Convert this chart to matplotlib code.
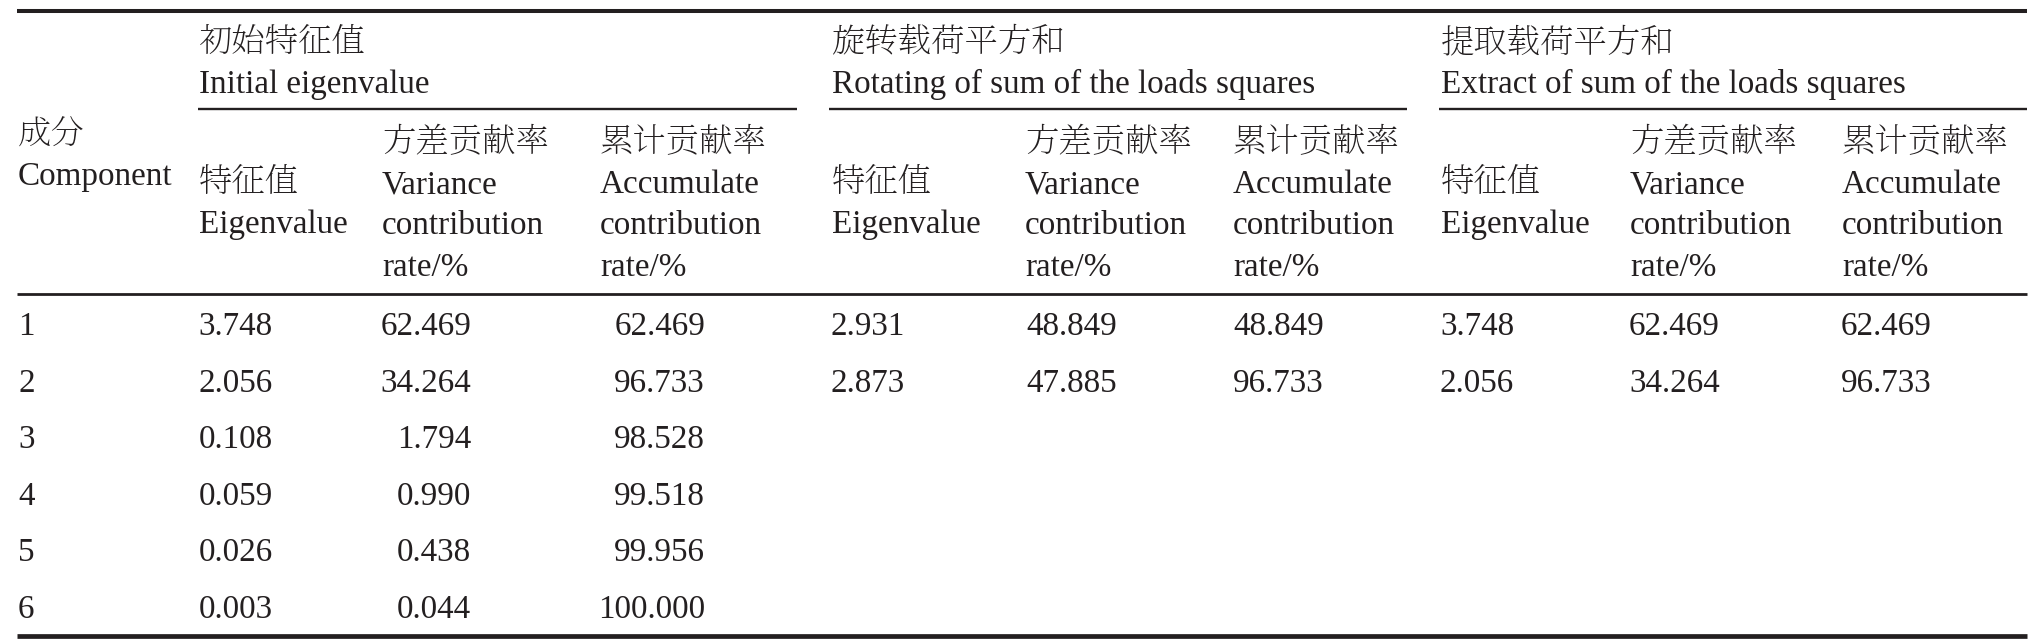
import matplotlib
matplotlib.use("Agg")
import matplotlib.pyplot as plt

# ---------------- data ----------------
components = [1, 2, 3, 4, 5, 6]
init_eig = [3.748, 2.056, 0.108, 0.059, 0.026, 0.003]
init_var = [62.469, 34.264, 1.794, 0.990, 0.438, 0.044]
init_acc = [62.469, 96.733, 98.528, 99.518, 99.956, 100.000]
rot_eig = [2.931, 2.873]
rot_var = [48.849, 47.885]
rot_acc = [48.849, 96.733]
ext_eig = [3.748, 2.056]
ext_var = [62.469, 34.264]
ext_acc = [62.469, 96.733]

group_cn = ["初始特征值", "旋转载荷平方和", "提取载荷平方和"]
group_en = ["Initial eigenvalue", "Rotating of sum of the loads squares",
            "Extract of sum of the loads squares"]
comp_cn, comp_en = "成分", "Component"
eig_cn, eig_en = "特征值", "Eigenvalue"
var_cn, var_en = "方差贡献率", ["Variance", "contribution", "rate/%"]
acc_cn, acc_en = "累计贡献率", ["Accumulate", "contribution", "rate/%"]

# ---------------- layout ----------------
W, H = 2035, 643
fig = plt.figure(figsize=(W / 100, H / 100), dpi=100)
ax = fig.add_axes([0, 0, 1, 1])
ax.set_xlim(0, W)
ax.set_ylim(H, 0)
ax.axis("off")

INK = "#231f20"
FS = 23.9
LAT = dict(family=["Liberation Serif", "DejaVu Serif"], fontsize=FS, color=INK, va="baseline")
CJK = dict(family=["Noto Serif CJK JP", "Noto Sans CJK SC"], weight="light", fontsize=24.0,
           color=INK, va="baseline")

# rules
ax.hlines(11, 17, 2027, color=INK, lw=2.9)
for x0, x1 in [(198, 797), (829, 1407), (1439, 2027)]:
    ax.hlines(109, x0, x1, color=INK, lw=1.7)
ax.hlines(294, 17, 2027, color=INK, lw=2.0)
ax.hlines(636, 17, 2027, color=INK, lw=3.4)

# header text
group_x = [199, 832, 1441]
sub_x = [(199, 382, 600), (832, 1025, 1233), (1441, 1630, 1842)]
for gx, cn, en in zip(group_x, group_cn, group_en):
    ax.text(gx, 52, cn, ha="left", **CJK)
    ax.text(gx, 93, en, ha="left", **LAT)

ax.text(18, 144, comp_cn, ha="left", **CJK)
ax.text(18, 185, comp_en, ha="left", **LAT)

for ex, vx, cx in sub_x:
    ax.text(ex, 192, eig_cn, ha="left", **CJK)
    ax.text(ex, 233, eig_en, ha="left", **LAT)
    ax.text(vx, 151, var_cn, ha="left", **CJK)
    ax.text(cx, 151, acc_cn, ha="left", **CJK)
    for k, yb in enumerate([193, 234.5, 276]):
        ax.text(vx, yb, var_en[k], ha="left", **LAT)
        ax.text(cx, yb, acc_en[k], ha="left", **LAT)

# body
row_base = [335, 391.6, 448.2, 504.8, 561.4, 618]
for i, c in enumerate(components):
    ax.text(18, row_base[i], str(c), ha="left", **LAT)

columns = [
    (init_eig, 273), (init_var, 471), (init_acc, 705),
    (rot_eig, 905), (rot_var, 1117), (rot_acc, 1324),
    (ext_eig, 1514), (ext_var, 1720), (ext_acc, 1932),
]
for vals, xr in columns:
    for i, v in enumerate(vals):
        ax.text(xr, row_base[i], f"{v:.3f}", ha="right", **LAT)

fig.savefig("out.png", dpi=100, facecolor="white")
